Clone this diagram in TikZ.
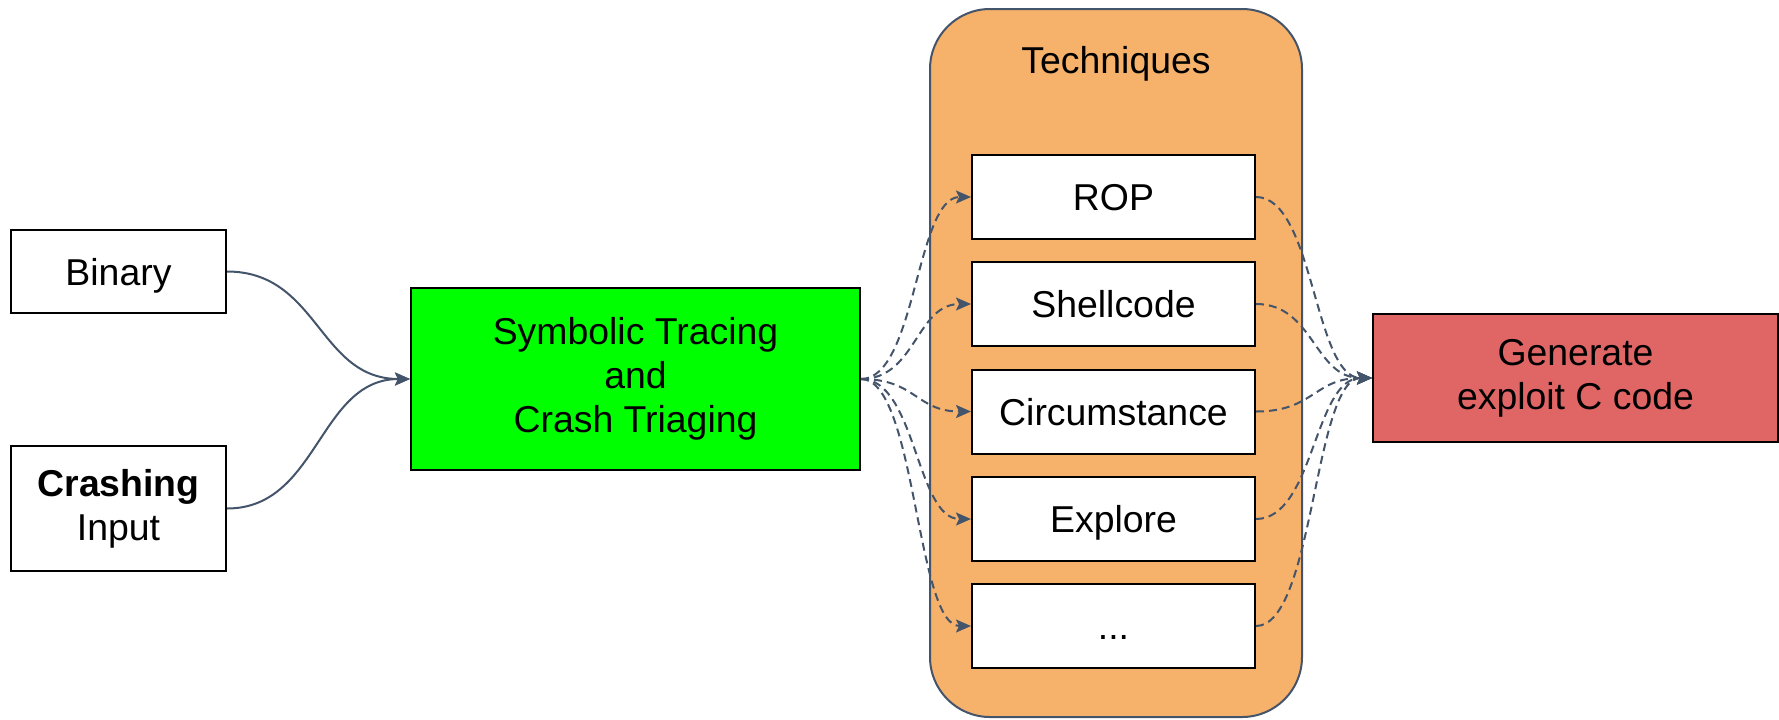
\documentclass[tikz,border=0pt]{standalone}
\usepackage{fontspec}
\setmainfont{Liberation Sans}
\usetikzlibrary{arrows.meta,calc}
\definecolor{linkgray}{HTML}{44546A}
\definecolor{techorange}{HTML}{F6B26B}
\definecolor{tracegreen}{HTML}{00FF00}
\definecolor{genred}{HTML}{E06666}
\begin{document}
\begin{tikzpicture}[x=0.5pt,y=-0.5pt,
  every node/.style={font=\fontsize{18.7}{22}\selectfont},
  box/.style={draw=black,line width=1pt,fill=white,inner sep=0pt,align=center},
  oneline/.style={text height=13.5pt,text depth=0pt},
  techbox/.style={box,oneline,minimum width=141.5pt,minimum height=42pt},
  hsbend/.style={to path={let \p1=(\tikztostart), \p2=(\tikztotarget) in
      .. controls ({0.5*\x1+0.5*\x2},\y1) and ({0.5*\x1+0.5*\x2},\y2) .. (\tikztotarget)}},
  conn/.style={draw=linkgray,line width=1pt,hsbend,
      -{Stealth[length=7.5pt,width=6.5pt,inset=1.5pt]}},
  dashconn/.style={conn,dash pattern=on 4pt off 2.5pt}]
\useasboundingbox (0,0) rectangle (1779,719);

% inputs
\node[box,oneline,minimum width=107.5pt,minimum height=41.5pt] (binary) at (118.5,271.5) {Binary};
\node[box,minimum width=107.5pt,minimum height=62.5pt] (crash) at (118.5,508.5) {\textbf{Crashing}\\Input};

% symbolic tracing stage
\node[box,fill=tracegreen,minimum width=224.5pt,minimum height=91pt] (trace) at (635.5,379)
  {Symbolic Tracing\\and\\Crash Triaging};

% techniques container
\node[draw=linkgray,line width=1pt,fill=techorange,rounded corners=30pt,
      minimum width=186pt,minimum height=354pt,inner sep=0pt] (techs) at (1116,363) {};
\node[oneline,inner sep=0pt] (techtitle) at (1116,60) {Techniques};

\node[techbox] (rop)   at (1113.5,197)   {ROP};
\node[techbox] (shell) at (1113.5,304)   {Shellcode};
\node[techbox] (circ)  at (1113.5,411.5) {Circumstance};
\node[techbox] (expl)  at (1113.5,519)   {Explore};
\node[techbox] (more)  at (1113.5,626)   {...};

% output
\node[box,fill=genred,minimum width=202.5pt,minimum height=64pt] (gen) at (1575.5,378)
  {Generate\\exploit C code};

% connectors
\draw[conn] (binary.east) to (trace.west);
\draw[conn] (crash.east) to (trace.west);

\foreach \t in {rop,shell,circ,expl,more}{
  \draw[dashconn] (trace.east) to (\t.west);
  \draw[dashconn] (\t.east) to (gen.west);
}
\end{tikzpicture}
\end{document}
